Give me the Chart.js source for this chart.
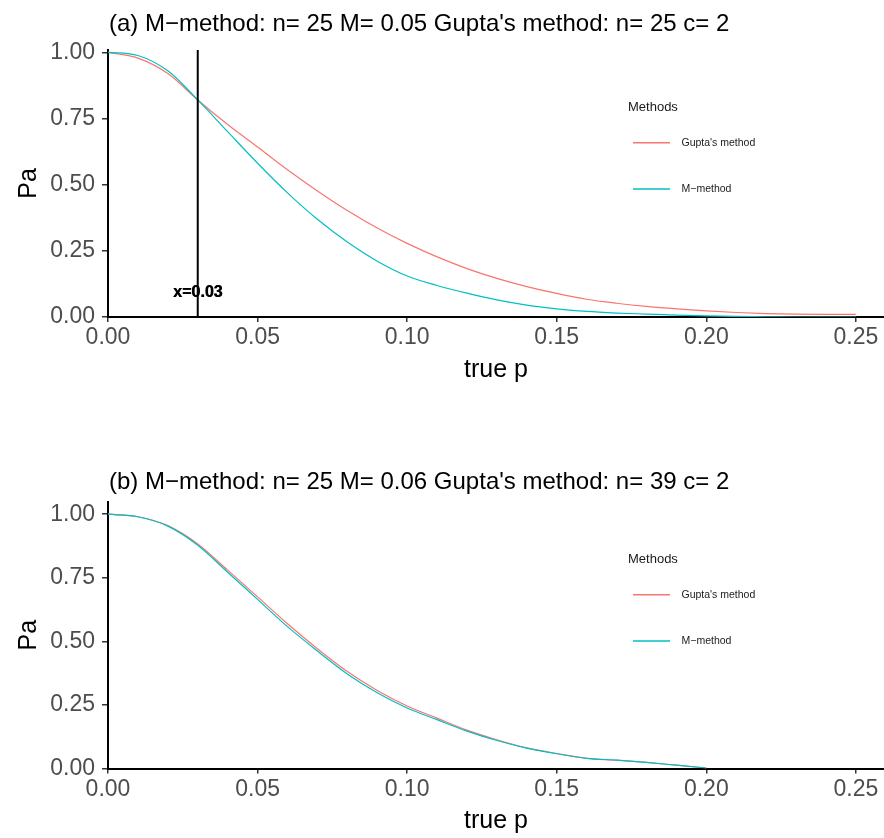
<!DOCTYPE html>
<html>
<head>
<meta charset="utf-8">
<script src="https://cdn.jsdelivr.net/npm/chart.js@4.4.1/dist/chart.umd.min.js"></script>
<style>
  html, body { margin: 0; padding: 0; background: #ffffff; }
  body { width: 884px; height: 838px; position: relative; overflow: hidden; }
  canvas { position: absolute; left: 0; }
</style>
</head>
<body>
<canvas id="top" width="884" height="419" style="top:0;width:884px;height:419px"></canvas>
<canvas id="bottom" width="884" height="419" style="top:419px;width:884px;height:419px"></canvas>
<script>
// ---------------- data ----------------
const seriesNames = ["Gupta's method", "M\u2212method"];
const seriesColors = ["#F8766D", "#00BFC4"];

const titleTop = "(a) M\u2212method: n= 25 M= 0.05 Gupta's method: n= 25 c= 2";
const titleBottom = "(b) M\u2212method: n= 25 M= 0.06 Gupta's method: n= 39 c= 2";

const pTop = [0.00,0.01,0.02,0.03,0.04,0.05,0.06,0.07,0.08,0.09,0.10,0.11,0.12,0.13,0.14,0.15,0.16,0.17,0.18,0.19,0.20,0.21,0.22,0.23,0.24,0.25];
const guptaTop = [1.000,0.978,0.920,0.820,0.727,0.642,0.556,0.476,0.402,0.336,0.278,0.227,0.183,0.146,0.115,0.089,0.067,0.052,0.040,0.031,0.023,0.017,0.013,0.011,0.010,0.010];
const mTop = [1.000,0.988,0.930,0.820,0.700,0.581,0.469,0.369,0.283,0.211,0.155,0.119,0.090,0.065,0.045,0.031,0.021,0.015,0.011,0.007,0.004,0.002,0.001,0.000,0.000,0.000];

const pBottom = [0.00,0.01,0.02,0.03,0.04,0.05,0.06,0.07,0.08,0.09,0.10,0.11,0.12,0.13,0.14,0.15,0.16,0.17,0.18,0.19,0.20];
const guptaBottom = [1.000,0.990,0.955,0.883,0.780,0.675,0.569,0.471,0.381,0.307,0.246,0.198,0.151,0.113,0.081,0.059,0.040,0.033,0.024,0.013,0.002];
const mBottom = [1.000,0.990,0.953,0.878,0.772,0.665,0.558,0.462,0.372,0.298,0.238,0.192,0.147,0.110,0.080,0.058,0.040,0.033,0.024,0.013,0.002];

const xTicks = [0.00,0.05,0.10,0.15,0.20,0.25];
const yTicks = [0.00,0.25,0.50,0.75,1.00];

const vlineX = 0.03;           // reference line in panel (a)
const vlineLabel = "x=0.03";
const vlineLabelY = 0.094;

const xMax = 0.2594;
const yMaxTop = 1.0087;
const yMaxBottom = 1.048;

// ---------------- helpers ----------------
const FONT = "'Liberation Sans', Arial, Helvetica, sans-serif";

function pts(xs, ys) { return xs.map((x, i) => ({ x: x, y: ys[i] })); }

const overlayPlugin = {
  id: 'overlay',
  afterDraw(chart, args, opts) {
    const ctx = chart.ctx;
    const ca = chart.chartArea;
    ctx.save();
    // panel title
    ctx.fillStyle = '#000000';
    ctx.font = '24px ' + FONT;
    ctx.textAlign = 'left';
    ctx.textBaseline = 'alphabetic';
    ctx.fillText(opts.title, ca.left + 1, opts.titleBaseline);
    // legend
    ctx.fillStyle = '#1a1a1a';
    ctx.font = '13px ' + FONT;
    ctx.textBaseline = 'middle';
    ctx.fillText('Methods', 628, ca.top + 57.5);
    const rows = [92.7, 139];
    seriesNames.forEach((name, i) => {
      const y = ca.top + rows[i];
      ctx.strokeStyle = seriesColors[i];
      ctx.lineWidth = 1.4;
      ctx.beginPath();
      ctx.moveTo(633, y);
      ctx.lineTo(670, y);
      ctx.stroke();
      ctx.fillStyle = '#1a1a1a';
      ctx.font = '10.5px ' + FONT;
      ctx.fillText(name, 681.5, y);
    });
    // annotation text
    if (opts.annotation) {
      const xs = chart.scales.x, ys = chart.scales.y;
      ctx.fillStyle = '#000000';
      ctx.font = 'bold 16px ' + FONT;
      ctx.textAlign = 'center';
      ctx.textBaseline = 'middle';
      const ax = xs.getPixelForValue(opts.annotation.x);
      const ay = ys.getPixelForValue(opts.annotation.y);
      ctx.fillText(opts.annotation.text, ax, ay);
      ctx.fillText(opts.annotation.text, ax + 0.5, ay);
    }
    ctx.restore();
  }
};

function makeChart(canvasId, xs, g, m, yMax, cfg) {
  const datasets = [
    { label: seriesNames[0], data: pts(xs, g), borderColor: seriesColors[0], borderWidth: 1.2,
      pointRadius: 0, fill: false, cubicInterpolationMode: 'monotone', order: 2 },
    { label: seriesNames[1], data: pts(xs, m), borderColor: seriesColors[1], borderWidth: 1.2,
      pointRadius: 0, fill: false, cubicInterpolationMode: 'monotone', order: 1 }
  ];
  if (cfg.vline !== undefined) {
    datasets.push({ label: 'vline', data: [{ x: cfg.vline, y: 0 }, { x: cfg.vline, y: yMax }],
      borderColor: '#000000', borderWidth: 2, pointRadius: 0, fill: false, order: 0 });
  }
  return new Chart(document.getElementById(canvasId), {
    type: 'line',
    data: { datasets: datasets },
    options: {
      responsive: false,
      animation: false,
      devicePixelRatio: 1,
      layout: { padding: { left: 0, right: 0, top: cfg.padTop, bottom: cfg.padBottom } },
      plugins: {
        legend: { display: false },
        title: { display: false },
        tooltip: { enabled: false },
        overlay: { title: cfg.title, titleBaseline: cfg.titleBaseline, annotation: cfg.annotation }
      },
      scales: {
        x: {
          type: 'linear', min: 0, max: xMax,
          afterBuildTicks: (s) => { s.ticks = xTicks.map(v => ({ value: v })); },
          afterFit: (s) => { s.height = 68; },
          ticks: { callback: (v) => Number(v).toFixed(2), color: '#4D4D4D',
                   font: { family: FONT, size: 23 }, padding: 2, maxRotation: 0, autoSkip: false },
          grid: { display: true, drawOnChartArea: false, drawTicks: true, tickLength: 5,
                  color: '#333333', lineWidth: 1.5 },
          border: { display: true, color: '#000000', width: 2 },
          title: { display: true, text: 'true p', color: '#000000',
                   font: { family: FONT, size: 25 }, padding: { top: 0, bottom: 0 } }
        },
        y: {
          type: 'linear', min: 0, max: yMax,
          afterBuildTicks: (s) => { s.ticks = yTicks.map(v => ({ value: v })); },
          afterFit: (s) => { s.width = 108; },
          ticks: { callback: (v) => Number(v).toFixed(2), color: '#4D4D4D',
                   font: { family: FONT, size: 23 }, padding: 7, autoSkip: false },
          grid: { display: true, drawOnChartArea: false, drawTicks: true, tickLength: 6,
                  color: '#333333', lineWidth: 1.5 },
          border: { display: true, color: '#000000', width: 2 },
          title: { display: true, text: 'Pa', color: '#000000',
                   font: { family: FONT, size: 25 }, padding: { top: 14, bottom: 0 } }
        }
      }
    },
    plugins: [overlayPlugin]
  });
}

makeChart('top', pTop, guptaTop, mTop, yMaxTop, {
  padTop: 50, padBottom: 34, title: titleTop, titleBaseline: 31, vline: vlineX,
  annotation: { x: vlineX, y: vlineLabelY, text: vlineLabel }
});
makeChart('bottom', pBottom, guptaBottom, mBottom, yMaxBottom, {
  padTop: 83, padBottom: 1.5, title: titleBottom, titleBaseline: 70
});
</script>
</body>
</html>
